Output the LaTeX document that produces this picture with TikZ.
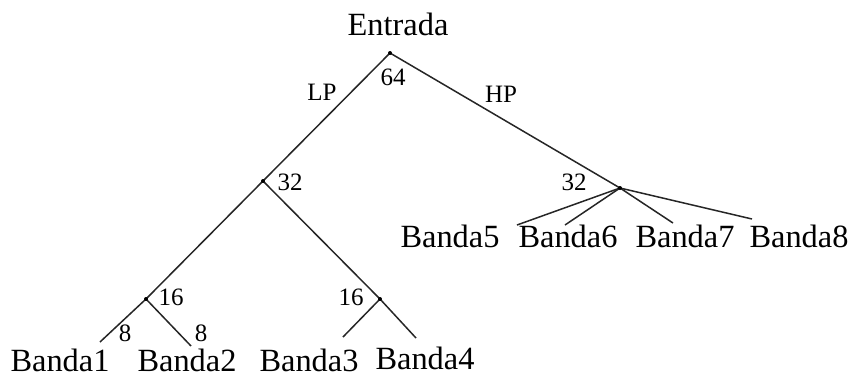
\documentclass[tikz,border=0pt]{standalone}
\usepackage{fontspec}
\setmainfont{Liberation Serif}
\begin{document}
\begin{tikzpicture}[x=0.5pt,y=-0.5pt,
  branch/.style={line width=0.75pt,black!85},
  dotmark/.style={circle,fill=black,inner sep=0pt,minimum size=2pt},
  bigtxt/.style={inner sep=0pt,anchor=base,font=\fontsize{16.2}{20}\selectfont},
  smalltxt/.style={inner sep=0pt,anchor=base,font=\fontsize{12.5}{15}\selectfont}]
\useasboundingbox (0,0) rectangle (853,377);
% junctions
\coordinate (r) at (390,53);
\coordinate (n32a) at (263,181);
\coordinate (n32b) at (620,188);
\coordinate (n16a) at (146,299);
\coordinate (n16b) at (380,299);
% free ends
\coordinate (e1) at (100,342);
\coordinate (e2) at (191,346);
\coordinate (e3) at (343,337);
\coordinate (e4) at (416,338);
\coordinate (e5) at (517,225);
\coordinate (e6) at (565,225);
\coordinate (e7) at (673,223);
\coordinate (e8) at (752,219);
% branches
\draw[branch] (r) -- (n32a);
\draw[branch] (r) -- (n32b);
\draw[branch] (n32a) -- (n16a);
\draw[branch] (n32a) -- (n16b);
\draw[branch] (n16a) -- (e1);
\draw[branch] (n16a) -- (e2);
\draw[branch] (n16b) -- (e3);
\draw[branch] (n16b) -- (e4);
\draw[branch] (n32b) -- (e5);
\draw[branch] (n32b) -- (e6);
\draw[branch] (n32b) -- (e7);
\draw[branch] (n32b) -- (e8);
% dots
\node[dotmark] (dr) at (r) {};
\node[dotmark] (d32a) at (n32a) {};
\node[dotmark] (d32b) at (n32b) {};
\node[dotmark] (d16a) at (n16a) {};
\node[dotmark] (d16b) at (n16b) {};
% labels
\node[bigtxt] (entrada) at (398,35) {Entrada};
\node[smalltxt] (lp) at (322,100) {LP};
\node[smalltxt] (hp) at (501,102) {HP};
\node[smalltxt] (l64) at (393,85) {64};
\node[smalltxt] (l32a) at (290,190) {32};
\node[smalltxt] (l32b) at (574,190) {32};
\node[smalltxt] (l16a) at (171,305) {16};
\node[smalltxt] (l16b) at (351,305) {16};
\node[smalltxt] (l8a) at (125,341) {8};
\node[smalltxt] (l8b) at (201,341) {8};
\node[bigtxt] (b1) at (60,371) {Banda1};
\node[bigtxt] (b2) at (187,371) {Banda2};
\node[bigtxt] (b3) at (309,371) {Banda3};
\node[bigtxt] (b4) at (425,369) {Banda4};
\node[bigtxt] (b5) at (450,247) {Banda5};
\node[bigtxt] (b6) at (568,247) {Banda6};
\node[bigtxt] (b7) at (685,247) {Banda7};
\node[bigtxt] (b8) at (799,247) {Banda8};
\end{tikzpicture}
\end{document}
